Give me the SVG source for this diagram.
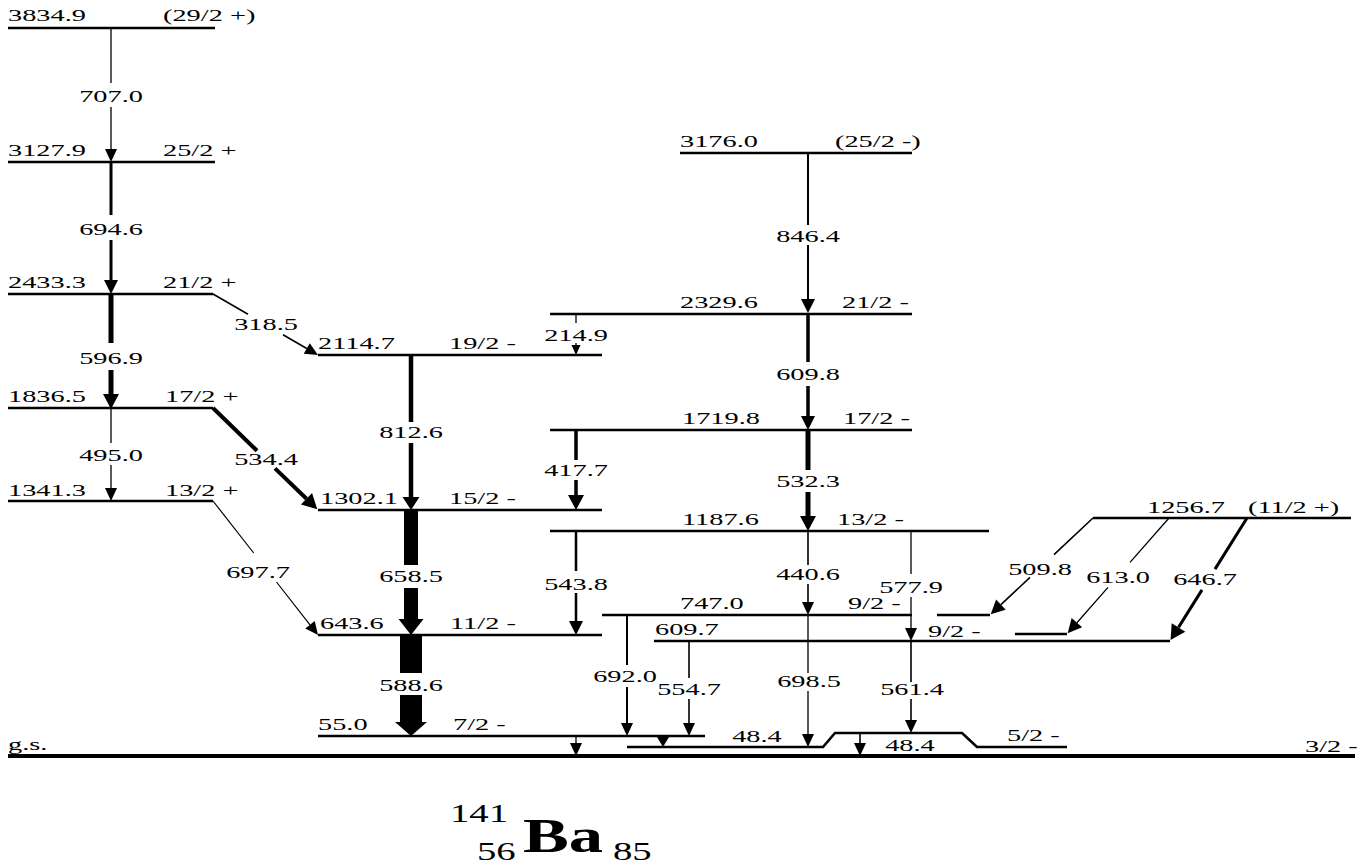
<svg xmlns="http://www.w3.org/2000/svg" width="1361" height="867" viewBox="0 0 1361 867">
<style>
.lv{stroke:#000;stroke-width:2.6;fill:none}
.gs{stroke:#000;stroke-width:4;fill:none}
.g{stroke:#000;fill:none}
.t{font-family:"Liberation Serif","Times New Roman",serif;font-size:17.5px;fill:#000}
.m{text-anchor:middle}
.big{font-family:"Liberation Serif","Times New Roman",serif;fill:#000}
</style>
<defs>
<marker id="a8" markerUnits="userSpaceOnUse" orient="auto" refX="0" refY="0" markerWidth="12" markerHeight="12" overflow="visible"><path d="M0,-4.5 L10,0 L0,4.5 Z" fill="#000"/></marker>
<marker id="a12" markerUnits="userSpaceOnUse" orient="auto" refX="0" refY="0" markerWidth="14" markerHeight="14" overflow="visible"><path d="M0,-6 L13,0 L0,6 Z" fill="#000"/></marker>
<marker id="a10" markerUnits="userSpaceOnUse" orient="auto" refX="0" refY="0" markerWidth="14" markerHeight="14" overflow="visible"><path d="M0,-6 L10,0 L0,6 Z" fill="#000"/></marker>
<marker id="a14" markerUnits="userSpaceOnUse" orient="auto" refX="0" refY="0" markerWidth="16" markerHeight="16" overflow="visible"><path d="M0,-7 L14,0 L0,7 Z" fill="#000"/></marker>
<marker id="a16" markerUnits="userSpaceOnUse" orient="auto" refX="0" refY="0" markerWidth="18" markerHeight="18" overflow="visible"><path d="M0,-8 L15,0 L0,8 Z" fill="#000"/></marker>
<marker id="a18" markerUnits="userSpaceOnUse" orient="auto" refX="0" refY="0" markerWidth="20" markerHeight="20" overflow="visible"><path d="M0,-8.5 L13,0 L0,8.5 Z" fill="#000"/></marker>
<marker id="a26" markerUnits="userSpaceOnUse" orient="auto" refX="0" refY="0" markerWidth="28" markerHeight="28" overflow="visible"><path d="M0,-12.5 L16,0 L0,12.5 Z" fill="#000"/></marker>
<marker id="a32" markerUnits="userSpaceOnUse" orient="auto" refX="0" refY="0" markerWidth="34" markerHeight="34" overflow="visible"><path d="M0,-16 L14,0 L0,16 Z" fill="#000"/></marker>
</defs>
<rect width="1361" height="867" fill="#fff"/>

<g id="levels">
<g id="L3834"><path class="lv" d="M8,28 H215"/><text class="t" transform="translate(8 21) scale(1.62 1)">3834.9</text><text class="t" transform="translate(163 21) scale(1.62 1)">(29/2 +)</text></g>
<g id="L3127"><path class="lv" d="M8,162 H215"/><text class="t" transform="translate(8 156) scale(1.62 1)">3127.9</text><text class="t" transform="translate(163 156) scale(1.62 1)">25/2 +</text></g>
<g id="L2433"><path class="lv" d="M8,294 H213"/><text class="t" transform="translate(8 288) scale(1.62 1)">2433.3</text><text class="t" transform="translate(163 288) scale(1.62 1)">21/2 +</text></g>
<g id="L1836"><path class="lv" d="M8,408 H213"/><text class="t" transform="translate(8 402) scale(1.62 1)">1836.5</text><text class="t" transform="translate(165 402) scale(1.62 1)">17/2 +</text></g>
<g id="L1341"><path class="lv" d="M8,501 H213"/><text class="t" transform="translate(8 496) scale(1.62 1)">1341.3</text><text class="t" transform="translate(165 496) scale(1.62 1)">13/2 +</text></g>
<g id="L2114"><path class="lv" d="M318,355 H602"/><text class="t" transform="translate(318 349) scale(1.62 1)">2114.7</text><text class="t" transform="translate(449 349) scale(1.62 1)">19/2 -</text></g>
<g id="L1302"><path class="lv" d="M318,510 H602"/><text class="t" transform="translate(320 504) scale(1.62 1)">1302.1</text><text class="t" transform="translate(449 504) scale(1.62 1)">15/2 -</text></g>
<g id="L643"><path class="lv" d="M318,635 H602"/><text class="t" transform="translate(320 629) scale(1.62 1)">643.6</text><text class="t" transform="translate(450 629) scale(1.62 1)">11/2 -</text></g>
<g id="L55"><path class="lv" d="M318,736 H705"/><text class="t" transform="translate(318 730) scale(1.62 1)">55.0</text><text class="t" transform="translate(453 730) scale(1.62 1)">7/2 -</text></g>
<g id="Lgs"><path class="gs" d="M8,756 H1355"/><text class="t" transform="translate(8 750) scale(1.62 1)">g.s.</text><text class="t" transform="translate(1305 752) scale(1.62 1)">3/2 -</text></g>
<g id="L3176"><path class="lv" d="M680,153 H912"/><text class="t" transform="translate(680 147) scale(1.62 1)">3176.0</text><text class="t" transform="translate(835 147) scale(1.62 1)">(25/2 -)</text></g>
<g id="L2329"><path class="lv" d="M550,314 H912"/><text class="t" transform="translate(680 308) scale(1.62 1)">2329.6</text><text class="t" transform="translate(842 308) scale(1.62 1)">21/2 -</text></g>
<g id="L1719"><path class="lv" d="M550,430 H912"/><text class="t" transform="translate(682 424) scale(1.62 1)">1719.8</text><text class="t" transform="translate(843 424) scale(1.62 1)">17/2 -</text></g>
<g id="L1187"><path class="lv" d="M550,531 H989"/><text class="t" transform="translate(682 525) scale(1.62 1)">1187.6</text><text class="t" transform="translate(837 525) scale(1.62 1)">13/2 -</text></g>
<g id="L747"><path class="lv" d="M602,615 H912 M937,615 H990"/><text class="t" transform="translate(680 609) scale(1.62 1)">747.0</text><text class="t" transform="translate(848 609) scale(1.62 1)">9/2 -</text></g>
<g id="L609"><path class="lv" d="M654,641 H1170 M1015,634 H1067"/><text class="t" transform="translate(655 635) scale(1.62 1)">609.7</text><text class="t" transform="translate(928 637) scale(1.62 1)">9/2 -</text></g>
<g id="L1256"><path class="lv" d="M1093,518 H1351"/><text class="t" transform="translate(1147 513) scale(1.62 1)">1256.7</text><text class="t" transform="translate(1248 513) scale(1.62 1)">(11/2 +)</text></g>
<g id="L48"><path class="lv" d="M627,747 H823 L835,733 H962 L977,747 H1067"/><text class="t m" transform="translate(757 742) scale(1.62 1)">48.4</text><text class="t m" transform="translate(910 751) scale(1.62 1)">48.4</text><text class="t" transform="translate(1007 741) scale(1.62 1)">5/2 -</text></g>
</g>

<g id="transitions">
<path class="g" stroke-width="1.3" d="M111,28 V83 M111,107 V149" marker-end="url(#a12)"/>
<text class="t m" transform="translate(111 102) scale(1.62 1)">707.0</text>
<path class="g" stroke-width="3" d="M111,162 V215 M111,240 V280" marker-end="url(#a14)"/>
<text class="t m" transform="translate(111 235) scale(1.62 1)">694.6</text>
<path class="g" stroke-width="5" d="M111,294 V343 M111,370 V394" marker-end="url(#a16)"/>
<text class="t m" transform="translate(111 364) scale(1.62 1)">596.9</text>
<path class="g" stroke-width="1.3" d="M111,408 V443 M111,465 V488" marker-end="url(#a12)"/>
<text class="t m" transform="translate(111 461) scale(1.62 1)">495.0</text>

<path class="g" stroke-width="1.6" d="M213,294 L248,314.3 M283,334.7 L306.75,348.47" marker-end="url(#a12)"/>
<text class="t m" transform="translate(266 330) scale(1.62 1)">318.5</text>
<path class="g" stroke-width="4" d="M213,408 L257,450.7 M275,468.4 L306.5,498.8" marker-end="url(#a16)"/>
<text class="t m" transform="translate(266 465) scale(1.62 1)">534.4</text>
<path class="g" stroke-width="1.2" d="M213,501 L253.7,553 M276.5,582 L310,624.8" marker-end="url(#a12)"/>
<text class="t m" transform="translate(258 578) scale(1.62 1)">697.7</text>

<path class="g" stroke-width="4.5" d="M411,355 V422 M411,443 V497" marker-end="url(#a18)"/>
<text class="t m" transform="translate(411 438) scale(1.62 1)">812.6</text>
<path class="g" stroke-width="14" d="M411,510 V565 M411,588 V619" marker-end="url(#a26)"/>
<text class="t m" transform="translate(411 582) scale(1.62 1)">658.5</text>
<path class="g" stroke-width="22" d="M411,635 V673 M411,695 V722" marker-end="url(#a32)"/>
<text class="t m" transform="translate(411 691) scale(1.62 1)">588.6</text>

<path class="g" stroke-width="1.3" d="M576,314 V323 M576,343 V345" marker-end="url(#a8)"/>
<text class="t m" transform="translate(576 341) scale(1.62 1)">214.9</text>
<path class="g" stroke-width="3.5" d="M576,430 V460 M576,480 V495" marker-end="url(#a16)"/>
<text class="t m" transform="translate(576 476) scale(1.62 1)">417.7</text>
<path class="g" stroke-width="2.5" d="M576,531 V571 M576,593 V621" marker-end="url(#a14)"/>
<text class="t m" transform="translate(576 590) scale(1.62 1)">543.8</text>

<path class="g" stroke-width="2" d="M808,153 V225 M808,245 V299" marker-end="url(#a14)"/>
<text class="t m" transform="translate(808 242) scale(1.62 1)">846.4</text>
<path class="g" stroke-width="3.5" d="M808,314 V362 M808,386 V416" marker-end="url(#a14)"/>
<text class="t m" transform="translate(808 380) scale(1.62 1)">609.8</text>
<path class="g" stroke-width="5" d="M808,430 V470 M808,492 V516" marker-end="url(#a16)"/>
<text class="t m" transform="translate(808 487) scale(1.62 1)">532.3</text>
<path class="g" stroke-width="1.6" d="M808,531 V565 M808,584 V602" marker-end="url(#a12)"/>
<text class="t m" transform="translate(808 580) scale(1.62 1)">440.6</text>
<path class="g" stroke-width="1.3" d="M808,615 V673 M808,691 V734" marker-end="url(#a12)"/>
<text class="t m" transform="translate(809 687) scale(1.62 1)">698.5</text>

<path class="g" stroke-width="1.3" d="M911,531 V574 M911,597 V628" marker-end="url(#a12)"/>
<text class="t m" transform="translate(911 593) scale(1.62 1)">577.9</text>
<path class="g" stroke-width="1.6" d="M911,641 V682 M911,699 V720" marker-end="url(#a12)"/>
<text class="t m" transform="translate(912 695) scale(1.62 1)">561.4</text>

<path class="g" stroke-width="2" d="M627,615 V665 M627,687 V723" marker-end="url(#a12)"/>
<text class="t m" transform="translate(625 682) scale(1.62 1)">692.0</text>
<path class="g" stroke-width="1.6" d="M689,641 V678 M689,699 V723" marker-end="url(#a12)"/>
<text class="t m" transform="translate(689 695) scale(1.62 1)">554.7</text>

<path class="g" stroke-width="1.3" d="M576,736 V743" marker-end="url(#a12)"/>
<path class="g" stroke-width="1.3" d="M663,736 V737" marker-end="url(#a10)"/>
<path class="g" stroke-width="1.6" d="M860,733 V743" marker-end="url(#a12)"/>

<path class="g" stroke-width="1.6" d="M1093,518 L1054,554.7 M1030,577.3 L1000.9,604.7" marker-end="url(#a14)"/>
<text class="t m" transform="translate(1040 575) scale(1.62 1)">509.8</text>
<path class="g" stroke-width="1.3" d="M1169,518 L1130,562.4 M1108,587.4 L1076.9,622.7" marker-end="url(#a14)"/>
<text class="t m" transform="translate(1118 583) scale(1.62 1)">613.0</text>
<path class="g" stroke-width="3" d="M1247,518 L1215,569.1 M1202,589.9 L1178.5,627.4" marker-end="url(#a16)"/>
<text class="t m" transform="translate(1205 585) scale(1.62 1)">646.7</text>
</g>

<g id="nucleus">
<text class="big" font-size="25" transform="translate(450 822) scale(1.55 1)">141</text>
<text class="big" font-size="25" transform="translate(477 860) scale(1.55 1)">56</text>
<text class="big" font-size="48" font-weight="bold" transform="translate(523 852) scale(1.43 1)">Ba</text>
<text class="big" font-size="25" transform="translate(613 860) scale(1.55 1)">85</text>
</g>
</svg>
